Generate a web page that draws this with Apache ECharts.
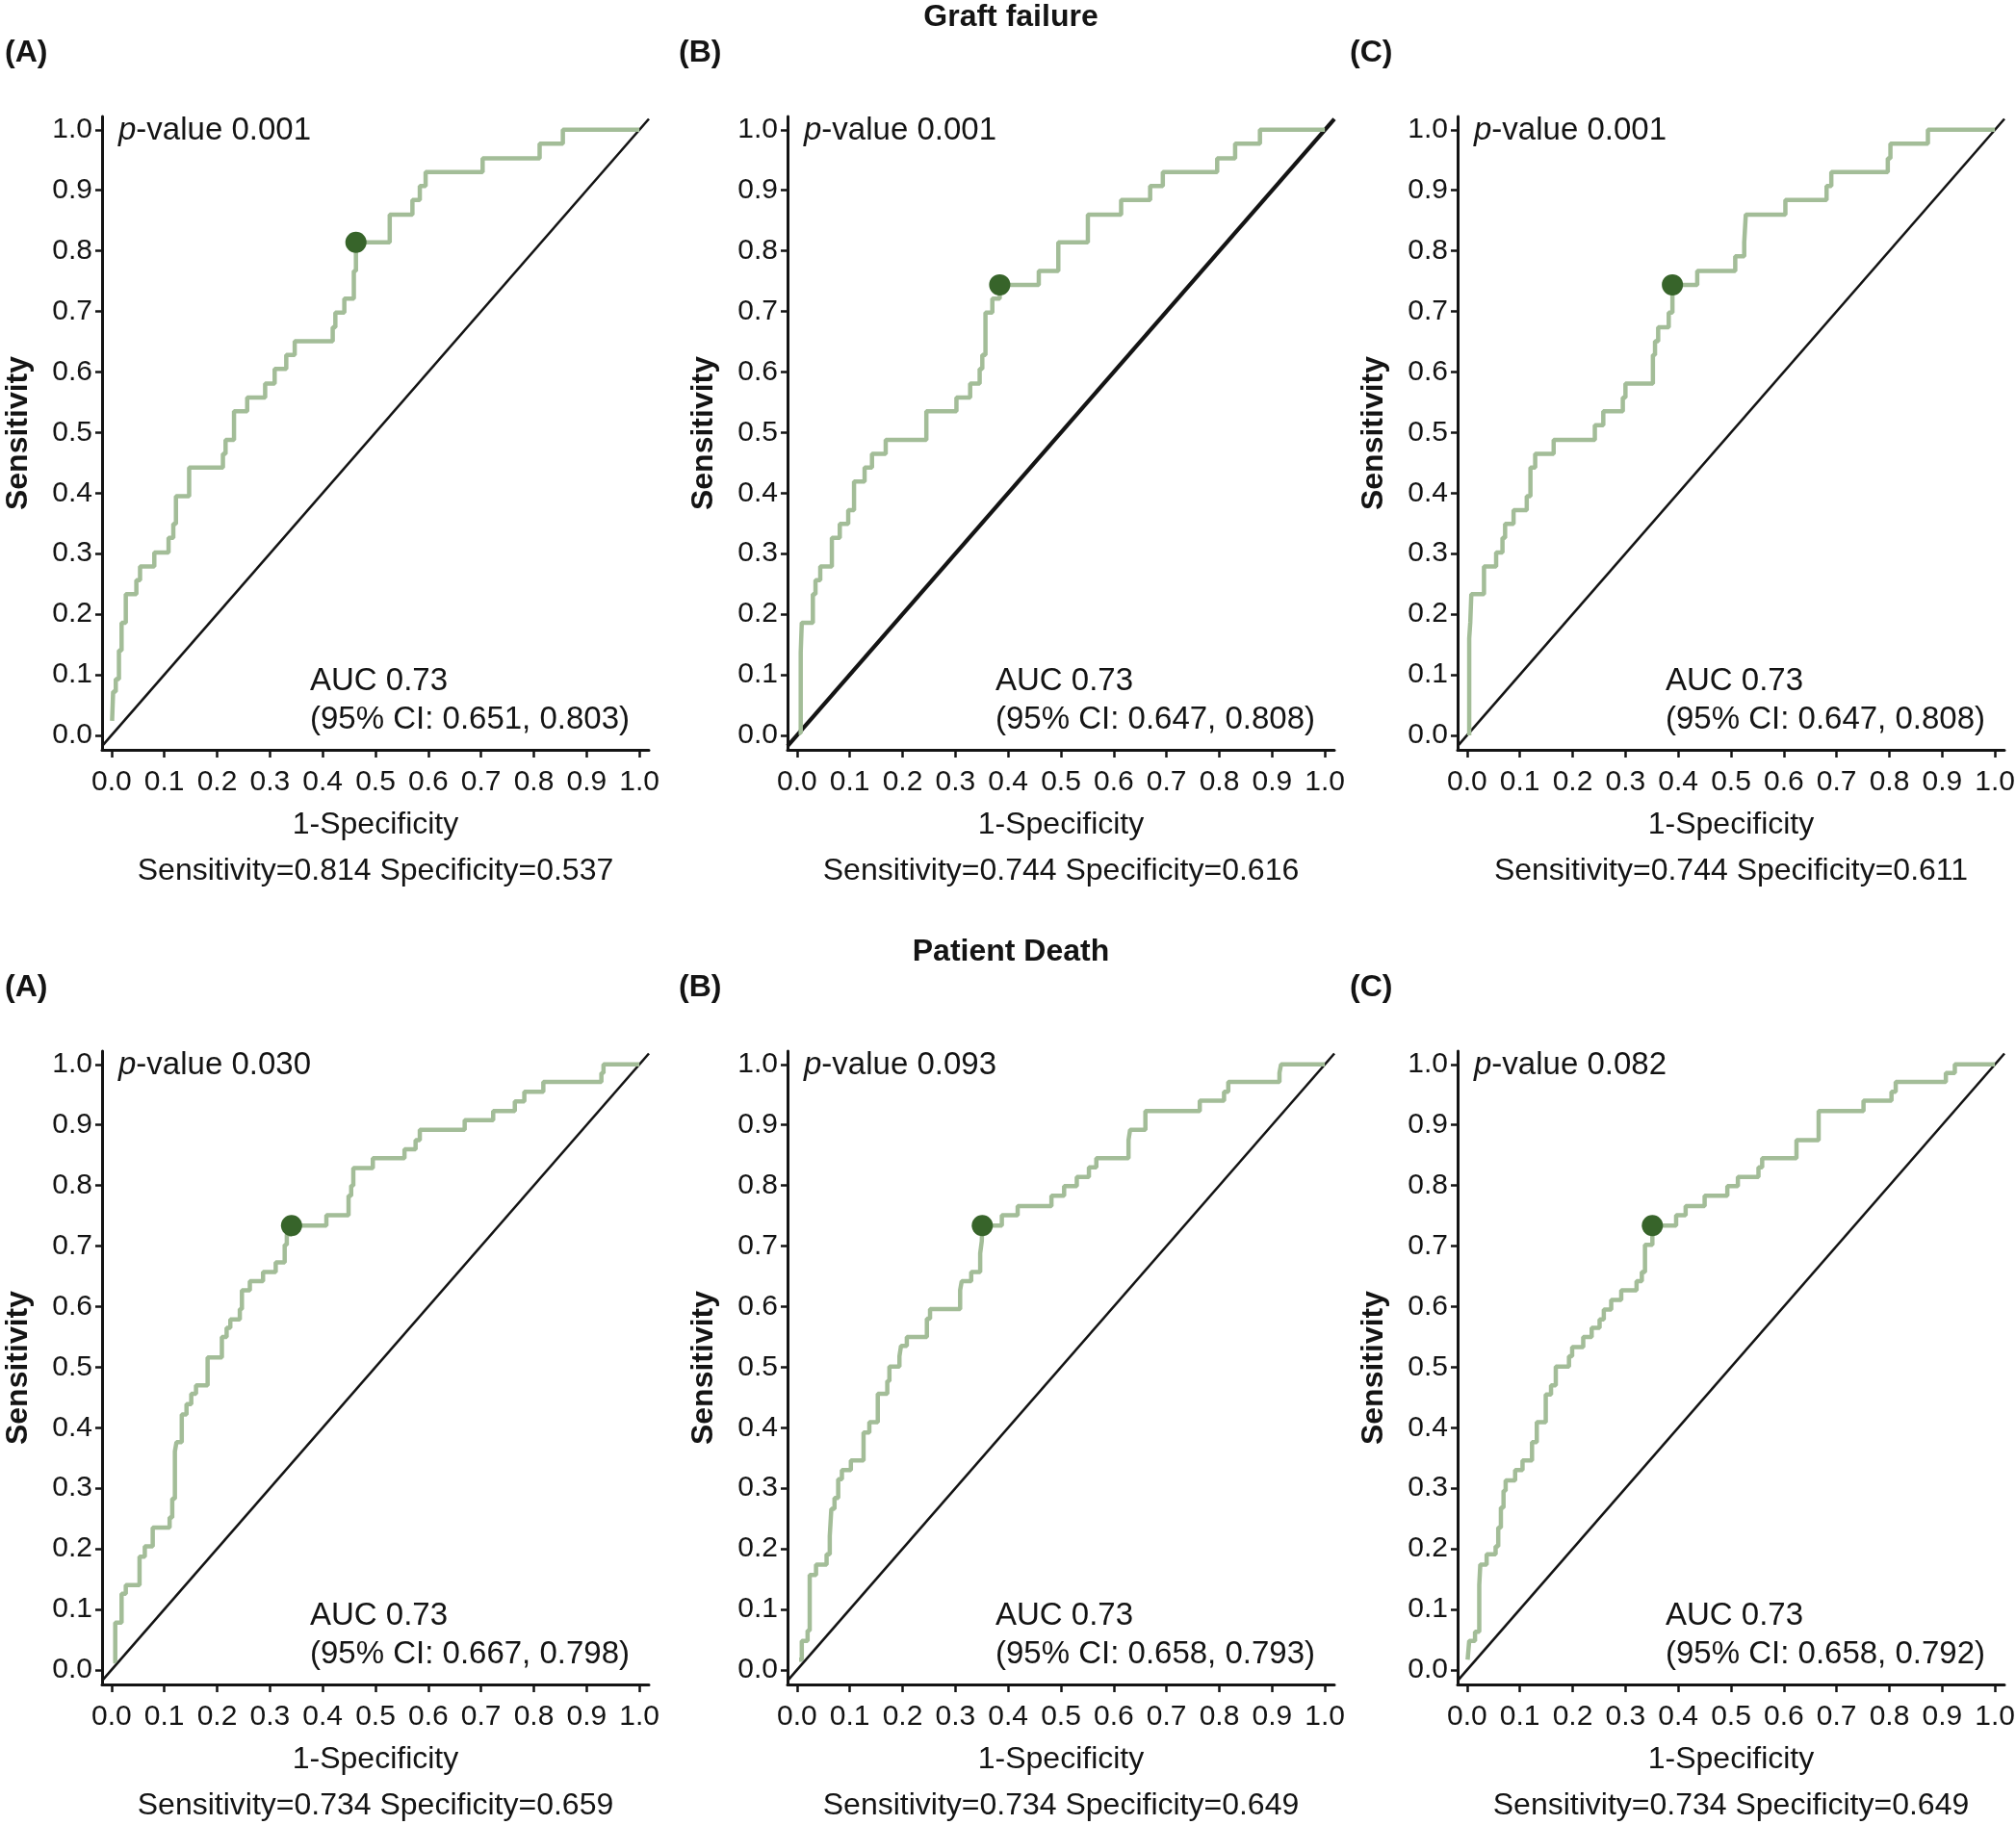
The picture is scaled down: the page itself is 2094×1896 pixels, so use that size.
<!DOCTYPE html>
<html>
<head>
<meta charset="utf-8">
<title>ROC curves</title>
<script src="https://cdn.jsdelivr.net/npm/echarts@6/dist/echarts.min.js"></script>
<style>
  html, body { margin: 0; padding: 0; background: #fff; }
  #roc { width: 2094px; height: 1896px; }
</style>
</head>
<body>
<div id="roc"></div>
<script>
// ROC step knots (1-specificity, sensitivity)
// Graft failure
var fprGraftA = [0.001, 0.003, 0.008, 0.014, 0.019, 0.027, 0.047, 0.054, 0.081, 0.108, 0.117, 0.122, 0.147, 0.211, 0.216, 0.232, 0.257, 0.291, 0.309, 0.331, 0.347, 0.419, 0.424, 0.441, 0.459, 0.463, 0.527, 0.570, 0.584, 0.595, 0.703, 0.811, 0.855, 1.0];
var tprGraftA = [0.024, 0.072, 0.093, 0.140, 0.186, 0.233, 0.256, 0.279, 0.302, 0.326, 0.349, 0.395, 0.442, 0.465, 0.488, 0.535, 0.558, 0.581, 0.605, 0.628, 0.651, 0.674, 0.698, 0.721, 0.767, 0.814, 0.860, 0.884, 0.907, 0.930, 0.953, 0.977, 1.0, 1.0];

var fprGraftB = [0.003, 0.007, 0.009, 0.030, 0.035, 0.044, 0.066, 0.081, 0.097, 0.108, 0.128, 0.142, 0.168, 0.245, 0.302, 0.328, 0.346, 0.351, 0.357, 0.370, 0.384, 0.458, 0.495, 0.551, 0.614, 0.669, 0.693, 0.796, 0.830, 0.877, 1.0];
var tprGraftB = [0.004, 0.137, 0.186, 0.233, 0.256, 0.279, 0.326, 0.349, 0.372, 0.419, 0.442, 0.465, 0.488, 0.535, 0.558, 0.581, 0.605, 0.628, 0.698, 0.721, 0.744, 0.767, 0.814, 0.860, 0.884, 0.907, 0.930, 0.953, 0.977, 1.0, 1.0];

var fprGraftC = [0.004, 0.004, 0.006, 0.008, 0.032, 0.055, 0.067, 0.072, 0.088, 0.113, 0.120, 0.129, 0.164, 0.242, 0.258, 0.295, 0.300, 0.352, 0.356, 0.362, 0.382, 0.389, 0.436, 0.508, 0.525, 0.528, 0.603, 0.681, 0.690, 0.797, 0.802, 0.873, 1.0];
var tprGraftC = [0.0, 0.160, 0.186, 0.233, 0.279, 0.302, 0.326, 0.349, 0.372, 0.395, 0.442, 0.465, 0.488, 0.512, 0.535, 0.558, 0.581, 0.628, 0.651, 0.674, 0.698, 0.744, 0.767, 0.791, 0.814, 0.860, 0.884, 0.907, 0.930, 0.953, 0.977, 1.0, 1.0];

// Patient death
var fprDeathA = [0.003, 0.007, 0.019, 0.027, 0.053, 0.063, 0.078, 0.110, 0.115, 0.120, 0.123, 0.133, 0.142, 0.151, 0.160, 0.182, 0.209, 0.218, 0.225, 0.243, 0.247, 0.262, 0.287, 0.311, 0.328, 0.332, 0.341, 0.407, 0.449, 0.454, 0.458, 0.495, 0.555, 0.576, 0.584, 0.669, 0.723, 0.764, 0.782, 0.818, 0.928, 0.932, 1.0];
var tprDeathA = [0.014, 0.078, 0.126, 0.140, 0.187, 0.204, 0.235, 0.252, 0.283, 0.361, 0.376, 0.422, 0.439, 0.456, 0.470, 0.516, 0.550, 0.565, 0.579, 0.596, 0.627, 0.642, 0.657, 0.673, 0.702, 0.719, 0.734, 0.751, 0.783, 0.800, 0.829, 0.845, 0.860, 0.875, 0.892, 0.908, 0.923, 0.939, 0.955, 0.971, 0.986, 1.0, 1.0];

var fprDeathB = [0.004, 0.009, 0.020, 0.024, 0.036, 0.056, 0.062, 0.065, 0.071, 0.078, 0.085, 0.102, 0.126, 0.137, 0.153, 0.171, 0.175, 0.194, 0.197, 0.208, 0.246, 0.252, 0.309, 0.312, 0.330, 0.347, 0.350, 0.351, 0.388, 0.418, 0.482, 0.506, 0.530, 0.553, 0.567, 0.628, 0.631, 0.660, 0.763, 0.809, 0.817, 0.914, 0.917, 1.0];
var tprDeathB = [0.017, 0.048, 0.065, 0.157, 0.174, 0.191, 0.221, 0.266, 0.284, 0.315, 0.330, 0.346, 0.392, 0.409, 0.456, 0.477, 0.501, 0.518, 0.535, 0.550, 0.580, 0.596, 0.627, 0.642, 0.657, 0.688, 0.708, 0.734, 0.751, 0.766, 0.783, 0.799, 0.814, 0.830, 0.845, 0.875, 0.892, 0.923, 0.940, 0.955, 0.971, 0.986, 1.0, 1.0];

var fprDeathC = [0.001, 0.004, 0.015, 0.023, 0.025, 0.037, 0.054, 0.059, 0.064, 0.069, 0.073, 0.091, 0.105, 0.123, 0.132, 0.149, 0.159, 0.168, 0.193, 0.199, 0.220, 0.236, 0.251, 0.259, 0.273, 0.292, 0.321, 0.331, 0.337, 0.351, 0.396, 0.414, 0.450, 0.493, 0.513, 0.552, 0.559, 0.624, 0.666, 0.751, 0.804, 0.812, 0.907, 0.924, 1.0];
var tprDeathC = [0.017, 0.048, 0.063, 0.140, 0.174, 0.191, 0.204, 0.235, 0.268, 0.296, 0.313, 0.330, 0.346, 0.376, 0.409, 0.455, 0.470, 0.501, 0.518, 0.533, 0.550, 0.565, 0.579, 0.595, 0.611, 0.627, 0.642, 0.657, 0.702, 0.734, 0.751, 0.766, 0.783, 0.799, 0.814, 0.830, 0.845, 0.875, 0.923, 0.940, 0.955, 0.971, 0.986, 1.0, 1.0];

// per panel: A,B,C graft failure then A,B,C patient death
var cutSens = [0.814, 0.744, 0.744, 0.734, 0.734, 0.734];
var cutSpec = [0.537, 0.616, 0.611, 0.659, 0.649, 0.649];
var pValues = ['0.001', '0.001', '0.001', '0.030', '0.093', '0.082'];
var aucValues = ['0.73', '0.73', '0.73', '0.73', '0.73', '0.73'];
var ciLow = ['0.651', '0.647', '0.647', '0.667', '0.658', '0.658'];
var ciHigh = ['0.803', '0.808', '0.808', '0.798', '0.793', '0.792'];
var panelLetters = ['(A)', '(B)', '(C)'];
var rowTitles = ['Graft failure', 'Patient Death'];
var tickValues = [0, 0.1, 0.2, 0.3, 0.4, 0.5, 0.6, 0.7, 0.8, 0.9, 1.0];

var fprList = [fprGraftA, fprGraftB, fprGraftC, fprDeathA, fprDeathB, fprDeathC];
var tprList = [tprGraftA, tprGraftB, tprGraftC, tprDeathA, tprDeathB, tprDeathC];

// layout
var FONT = '"Liberation Sans", Arial, Helvetica, sans-serif';
var FS = 30;      // tick labels
var FS_NOTE = 33; // p-value, AUC
var FS_BOLD = 32; // panel letters, row titles, y title
var INK = '#141414';
var CURVE = '#a3bd98';
var DOT = '#37642a';
var X_MIN = -0.018, X_MAX = 1.018, Y_MIN = -0.024, Y_MAX = 1.022;
var colLeft = [106, 818, 1514];
var rowTop = [121, 1092];
var GW = 568, GH = 658;
var diagWidth = [2.6, 4.2, 2.6, 2.6, 2.6, 2.6];

function px(col, v) { return colLeft[col] + (v - X_MIN) / (X_MAX - X_MIN) * GW; }
function py(row, v) { return rowTop[row] + (Y_MAX - v) / (Y_MAX - Y_MIN) * GH; }

var grids = [], xAxes = [], yAxes = [], series = [], graphics = [];

function txt(x, y, text, opts) {
    opts = opts || {};
    var st = {
        text: text, x: x, y: y,
        fill: INK,
        fontSize: opts.size || FS_NOTE,
        fontFamily: FONT,
        fontWeight: opts.weight || 'normal',
        align: opts.align || 'left', textAlign: opts.align || 'left',
        verticalAlign: 'middle', textVerticalAlign: 'middle'
    };
    if (opts.rich) st.rich = opts.rich;
    graphics.push({ type: 'text', silent: true, style: st });
}

for (var i = 0; i < 6; i++) {
    var row = Math.floor(i / 3), col = i % 3;
    grids.push({ left: colLeft[col], top: rowTop[row], width: GW, height: GH, outerBoundsMode: 'none' });

    xAxes.push({
        gridIndex: i, type: 'value', min: X_MIN, max: X_MAX,
        axisLine: { show: true, onZero: false, lineStyle: { color: INK, width: 3 } },
        axisTick: { show: true, customValues: tickValues, length: 8, lineStyle: { color: INK, width: 2.5 } },
        axisLabel: {
            customValues: tickValues, margin: 19, fontSize: FS, fontFamily: FONT, color: INK,
            formatter: function (v) { return v.toFixed(1); }
        },
        splitLine: { show: false },
        name: '1-Specificity', nameLocation: 'middle', nameGap: 62,
        nameTextStyle: { fontSize: 32, fontFamily: FONT, color: INK }
    });
    yAxes.push({
        gridIndex: i, type: 'value', min: Y_MIN, max: Y_MAX,
        axisLine: { show: true, onZero: false, lineStyle: { color: INK, width: 3 } },
        axisTick: { show: true, customValues: tickValues, length: 7, lineStyle: { color: INK, width: 2.5 } },
        axisLabel: {
            customValues: tickValues, margin: 10, fontSize: FS, fontFamily: FONT, color: INK,
            formatter: function (v) { return v.toFixed(1); }
        },
        splitLine: { show: false },
        name: 'Sensitivity', nameLocation: 'middle', nameGap: 71,
        nameTextStyle: { fontSize: FS_BOLD, fontFamily: FONT, color: INK, fontWeight: 'bold' }
    });

    // chance line across the panel
    series.push({
        type: 'line', xAxisIndex: i, yAxisIndex: i, silent: true, symbol: 'none',
        data: [[X_MIN, X_MIN], [X_MAX, X_MAX]],
        lineStyle: { color: INK, width: diagWidth[i] }, z: 2
    });
    series.push({
        type: 'line', xAxisIndex: i, yAxisIndex: i, silent: true, symbol: 'none', step: 'end',
        data: fprList[i].map(function (x, k) { return [x, tprList[i][k]]; }),
        lineStyle: { color: CURVE, width: 4.5 }, z: 3
    });
    series.push({
        type: 'scatter', xAxisIndex: i, yAxisIndex: i, silent: true,
        data: [[+(1 - cutSpec[i]).toFixed(3), cutSens[i]]],
        symbolSize: 22, itemStyle: { color: DOT, opacity: 1 }, z: 4
    });

    // annotations
    txt(colLeft[col] + 17, py(row, 1.0) + 1, '{it|p}-value ' + pValues[i], {
        rich: { it: { fontStyle: 'italic', fontSize: FS_NOTE, fontFamily: FONT, fill: INK, color: INK } }
    });
    txt(colLeft[col] + 216, py(row, 0.092) + 2, 'AUC ' + aucValues[i]);
    txt(colLeft[col] + 216, py(row, 0.028) + 2, '(95% CI: ' + ciLow[i] + ', ' + ciHigh[i] + ')');
    txt(px(col, 0.5), py(row, 1.0) + 770,
        'Sensitivity=' + cutSens[i].toFixed(3) + ' Specificity=' + cutSpec[i].toFixed(3), { align: 'center', size: 32 });
    txt([5, 705, 1402][col], py(row, 1.0) - 80, panelLetters[col], { weight: 'bold', size: FS_BOLD });
}
txt(1050, 18, rowTitles[0], { weight: 'bold', align: 'center', size: FS_BOLD });
txt(1050, 989, rowTitles[1], { weight: 'bold', align: 'center', size: FS_BOLD });

var chart = echarts.init(document.getElementById('roc'));
chart.setOption({
    backgroundColor: '#ffffff',
    animation: false,
    grid: grids,
    xAxis: xAxes,
    yAxis: yAxes,
    series: series,
    graphic: graphics
});
</script>
</body>
</html>
